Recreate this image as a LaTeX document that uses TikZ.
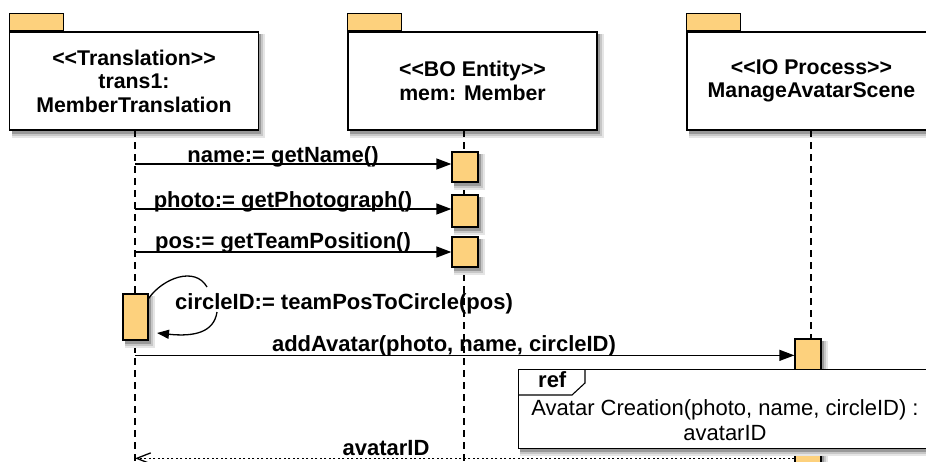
\documentclass[tikz,border=0pt]{standalone}
\usepackage{fontspec}
\setmainfont{Liberation Sans}
\usetikzlibrary{arrows.meta,calc}
\definecolor{tabc}{RGB}{253,209,125}
\newcommand\oppen{<\kern0pt<}
\newcommand\clsng{>\kern0pt>}
\newcommand\softshadow[4]{%
  \fill[black!10] (#1+2,#2+2) rectangle (#3+7,#4+8);
  \fill[black!22] (#1+2,#2+2) rectangle (#3+5,#4+6);
  \fill[black!40] (#1+1.5,#2+1.5) rectangle (#3+3,#4+3.5);}
\begin{document}
\begin{tikzpicture}[x=1pt,y=-1pt,
 headbox/.style={draw=black, line width=1.3pt, fill=white, minimum width=249pt, minimum height=98pt, inner sep=0pt, align=center, font=\bfseries\fontsize{21.3}{23.5}\selectfont},
 tabbox/.style={draw=black, line width=1.1pt, fill=tabc, minimum width=54pt, minimum height=17pt, inner sep=0pt, anchor=south west},
 actbox/.style={draw=black, line width=1.3pt, fill=tabc, minimum width=26pt, inner sep=0pt},
 life/.style={line width=1.4pt, dash pattern=on 7pt off 5pt},
 msg/.style={line width=1.3pt, -{Triangle[length=15pt,width=11pt]}},
 ret/.style={line width=1.3pt, dash pattern=on 2pt off 2.5pt, -{Straight Barb[length=14pt,width=11pt]}},
 lbl/.style={font=\bfseries\fontsize{22}{24}\selectfont, inner sep=0pt, anchor=base},
 reftxt/.style={font=\fontsize{22}{24}\selectfont, inner sep=0pt, anchor=base}
]
\useasboundingbox (0,0) rectangle (926,461);
\clip (0,0) rectangle (926,461);

% lifeline coordinates
\coordinate (l1) at (135,130);
\coordinate (l2) at (464,130);
\coordinate (l3) at (811,130);
\coordinate (bot) at (0,475);

% shadows of heads
\softshadow{10}{32}{258}{130}
\softshadow{348}{32}{597}{130}
\softshadow{687}{32}{936}{130}

% lifelines
\draw[life] (l1) -- (l1 |- bot);
\draw[life] (l2) -- (l2 |- bot);
\draw[life] (l3) -- (l3 |- bot);

% heads
\node[headbox] (h1) at (134,81) {\oppen Translation\clsng\\trans1:\\MemberTranslation};
\node[tabbox] (t1) at (h1.north west) {};
\node[headbox] (h2) at (472.5,81) {\oppen BO Entity\clsng\\mem: Member};
\node[tabbox] (t2) at (h2.north west) {};
\node[headbox] (h3) at (811.5,81) {\oppen IO Process\clsng\\ManageAvatarScene};
\node[tabbox] (t3) at (h3.north west) {};

% activations
\softshadow{452}{152}{478}{182}
\softshadow{452}{195}{478}{227}
\softshadow{452}{237}{478}{267}
\softshadow{123}{294}{148}{340}
\softshadow{795}{339}{821}{480}
\node[actbox, minimum height=30pt] (aa) at (465,167) {};
\node[actbox, minimum height=32pt] (ab) at (465,211) {};
\node[actbox, minimum height=30pt] (ac) at (465,252) {};
\node[actbox, minimum width=25pt, minimum height=46pt] (sa) at (135.5,317) {};
\node[actbox, minimum height=141pt] (a3) at (808,409.5) {};

% messages
\coordinate (ma) at ([yshift=3pt]aa.west);
\coordinate (mb) at ([yshift=2pt]ab.west);
\coordinate (mc) at (ac.west);
\draw[msg] (l1 |- ma) -- (ma);
\node[lbl] (la) at (283,162) {name:= getName()};
\draw[msg] (l1 |- mb) -- (mb);
\node[lbl] (lb) at (283,207) {photo:= getPhotograph()};
\draw[msg] (l1 |- mc) -- (mc);
\node[lbl] (lc) at (283,248) {pos:= getTeamPosition()};

% self message
\coordinate (sStart) at ([yshift=-5pt]sa.north east);
\coordinate (sEnd) at (157,333);
\draw[line width=1.3pt] (sStart) .. controls (163,278) and (195,266) .. (207,287);
\draw[line width=1.3pt, -{Triangle[length=12pt,width=9pt]}] (217,312) .. controls (214,332) and (195,337) .. (sEnd);
\node[lbl, anchor=base west] (ls) at (175,309) {circleID:= teamPosToCircle(pos)};

% addAvatar
\coordinate (m5) at ([yshift=-17pt]a3.north west);
\draw[msg] (l1 |- m5) -- (m5);
\node[lbl] (l5) at (444,351) {addAvatar(photo, name, circleID)};

% ref fragment
\softshadow{518}{369}{948}{448}
\node[draw=black, line width=1.3pt, fill=white, minimum width=430pt, minimum height=79pt, inner sep=0pt, anchor=north west] (ref) at (518,369) {};
\draw[line width=1.1pt] (ref.north west) ++(67,0) -- ++(0,14) -- ++(-13,12) -- ++(-54,0);
\node[lbl, anchor=base west] (rl) at (538,387) {ref};
\node[reftxt] (r1) at (725,415) {Avatar Creation(photo, name, circleID) :};
\node[reftxt] (r2) at (725,440) {avatarID};

% return
\coordinate (m6) at ([yshift=-120pt]a3.north west);
\draw[ret] (m6) -- (l1 |- m6);
\node[lbl] (l6) at (386,455) {avatarID};
\end{tikzpicture}
\end{document}
